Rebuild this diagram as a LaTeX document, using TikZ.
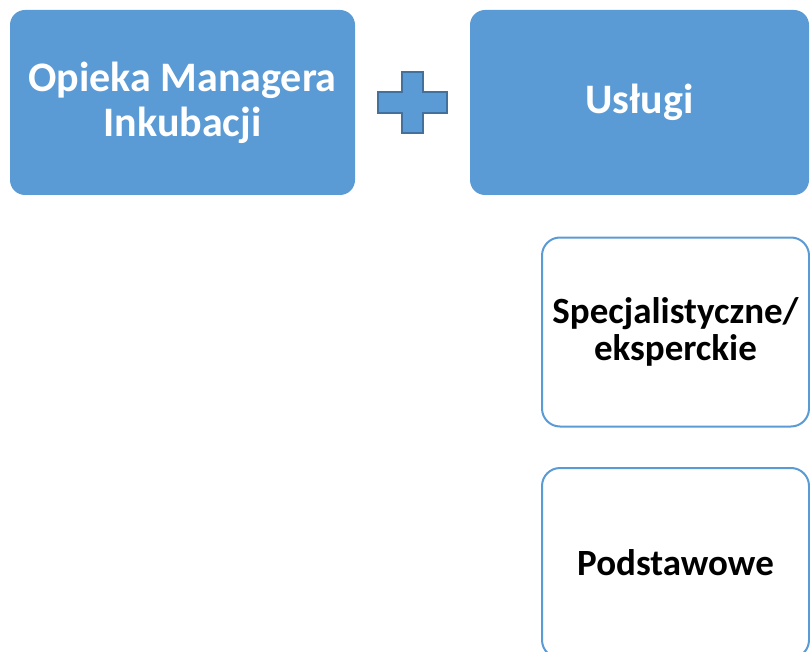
\documentclass[tikz,border=0pt]{standalone}
\usepackage{fontspec}
\setmainfont{Carlito}
\usepackage{tikz}
\usetikzlibrary{calc}
\definecolor{officeblue}{HTML}{5B9BD5}
\definecolor{plusedge}{HTML}{41719C}
\tikzset{
every picture/.style={line width=0.8pt, >=stealth},
%%%%%%%%%%  Node styles
bluebox/.style={fill=officeblue, draw=none, rounded corners=15pt,
                text=white, font=\bfseries\fontsize{42}{45}\selectfont,
                align=center, inner sep=0pt},
whitebox/.style={fill=white, draw=officeblue, line width=2pt,
                 rounded corners=18pt, text=black,
                 font=\bfseries\fontsize{37}{37}\selectfont,
                 align=center, inner sep=0pt},
%%%%%%% plus sign
plussign/.style={fill=officeblue, draw=plusedge, line width=2pt}
}

\begin{document}
\begin{tikzpicture}[x=1pt,y=-1pt]
\useasboundingbox (0,0) rectangle (810,652);
%% top row
\node[bluebox, minimum width=345pt, minimum height=185pt] (opieka)
	at (182.5,102.5) {Opieka Managera\\Inkubacji};
\node[bluebox, minimum width=339pt, minimum height=185pt] (uslugi)
	at (639.5,102.5) {Usługi};
%% plus sign between the two
\draw[plussign] (402,72) -- (423,72) -- (423,92) -- (447,92) -- (447,113)
	-- (423,113) -- (423,133) -- (402,133) -- (402,113) -- (378,113)
	-- (378,92) -- (402,92) -- cycle;
%% kinds of services
\node[whitebox, minimum width=267pt, minimum height=189pt] (specjal)
	at (675.5,332) {Specjalistyczne/\\eksperckie};
\node[whitebox, minimum width=267pt, minimum height=190pt] (podst)
	at (675.5,563) {Podstawowe};
\end{tikzpicture}
\end{document}
